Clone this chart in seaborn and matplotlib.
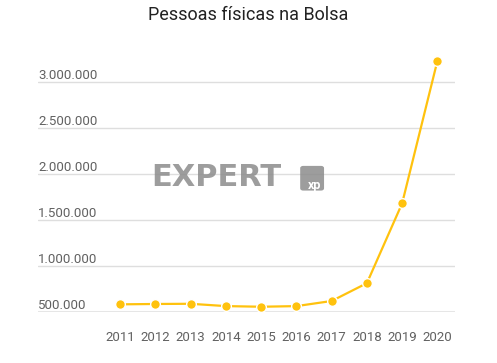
import matplotlib
matplotlib.use('Agg')
import matplotlib.pyplot as plt
import matplotlib.transforms as mtransforms
from matplotlib.patches import FancyBboxPatch
import pandas as pd
import seaborn as sns

# dados (B3) - pessoas fisicas na bolsa
anos = [2011, 2012, 2013, 2014, 2015, 2016, 2017, 2018, 2019, 2020]
investidores = [583202, 587165, 589276, 564116, 557109, 564024, 619625, 813291, 1681033, 3229318]
yticks = [500000, 1000000, 1500000, 2000000, 2500000, 3000000]
ylabels = ['500.000', '1.000.000', '1.500.000', '2.000.000', '2.500.000', '3.000.000']
titulo = 'Pessoas físicas na Bolsa'

df = pd.DataFrame({'ano': anos, 'pessoas': investidores})

sns.set_style('white')
plt.rcParams['font.family'] = ['Roboto', 'DejaVu Sans']

amarelo = '#FFC20E'
cinza_txt = '#616161'

fig = plt.figure(figsize=(4.97, 3.63), dpi=100)
ax = fig.add_axes([0.0765, 0.1405, 0.839, 0.7095])

sns.lineplot(data=df, x='ano', y='pessoas', ax=ax, color=amarelo, linewidth=1.6,
             marker='o', markersize=7, markeredgecolor='white', markeredgewidth=1.0, zorder=5)

ax.set_xlim(2008.67, 2020.5)
ax.set_ylim(500000, 3300000)
ax.set_xticks(anos)
ax.set_xticklabels([str(a) for a in anos], fontsize=9.5, color=cinza_txt)
ax.tick_params(axis='x', length=0, pad=14)

ax.set_yticks(yticks)
ax.set_yticklabels([])
ax.tick_params(axis='y', length=0)
for yv, lab in zip(yticks, ylabels):
    ax.text(0.0, yv, lab, transform=mtransforms.blended_transform_factory(ax.transAxes, ax.transData),
            ha='left', va='bottom', fontsize=9.5, color=cinza_txt)

for yv in yticks[1:]:
    ax.axhline(yv, color='#dedede', linewidth=1.0, zorder=1)
ax.axhline(500000, color='#e6e6e6', linewidth=2.2, zorder=1)

for s in ax.spines.values():
    s.set_visible(False)
ax.set_xlabel('')
ax.set_ylabel('')

fig.text(0.5, 0.96, titulo, ha='center', va='center', fontsize=13, color='#222222')

# marca d'agua
fig.text(0.435, 0.512, 'EXPERT', ha='center', va='center', fontsize=22, fontweight='bold',
         color='#8c8c8c', alpha=0.85, family='DejaVu Sans', zorder=10)
caixa = FancyBboxPatch((0.607, 0.478), 0.042, 0.062, boxstyle='round,pad=0.003,rounding_size=0.006',
                       transform=fig.transFigure, facecolor='#8c8c8c', edgecolor='none', alpha=0.85, zorder=10)
fig.patches.append(caixa)
fig.text(0.632, 0.49, 'xp', ha='center', va='center', fontsize=9, fontweight='bold',
         color='white', zorder=11)

sns.despine(left=True, bottom=True)
fig.savefig('out.png', dpi=100)
